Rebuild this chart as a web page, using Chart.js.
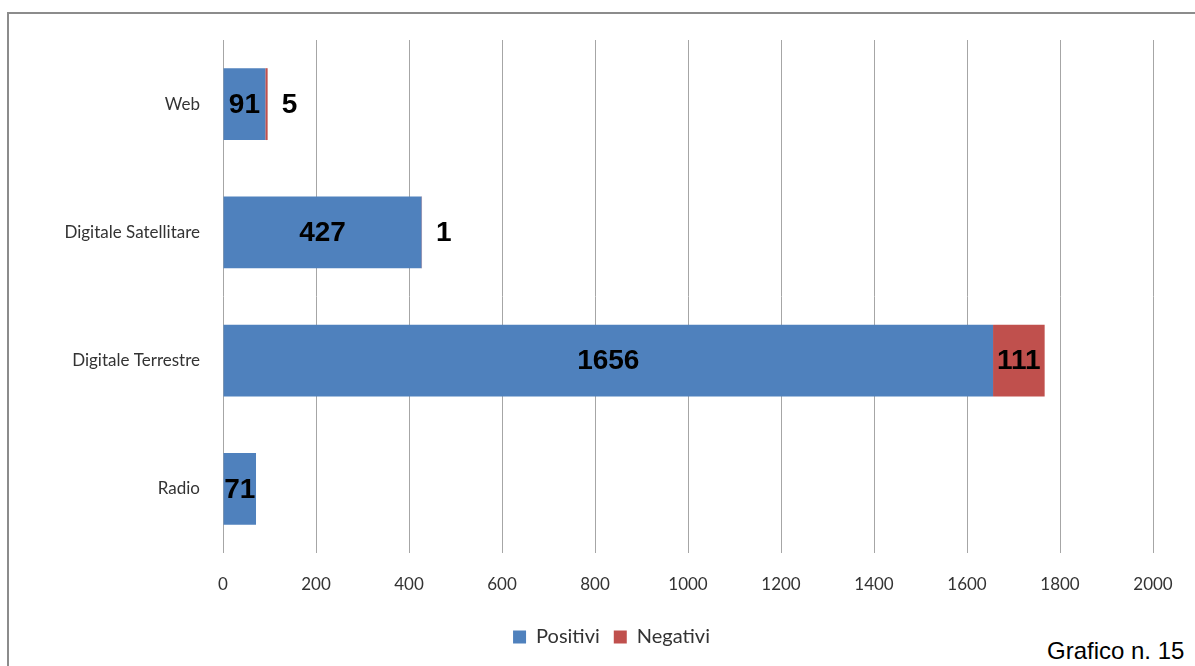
<!DOCTYPE html>
<html lang="it">
<head>
<meta charset="UTF-8">
<title>Grafico n. 15</title>
<script src="https://cdn.jsdelivr.net/npm/chart.js"></script>
<style>
    html, body {
        margin: 0;
        padding: 0;
        background: #fff;
        overflow: hidden;
    }
    .frame {
        position: absolute;
        left: 7px;
        top: 12px;
        width: 1400px;
        height: 800px;
        border: 2px solid #8c8c8c;
    }
    .wrap {
        position: absolute;
        left: 0;
        top: 0;
        width: 1195px;
        height: 666px;
    }
    .caption {
        position: absolute;
        left: 1043px;
        top: 637px;
        font-family: 'Liberation Sans', Arial, sans-serif;
        font-size: 24px;
        color: #000;
        background: #fff;
        padding: 0 4px;
    }
</style>
</head>
<body>
<div class="frame"></div>
<div class="wrap"><canvas id="chart" width="1195" height="666"></canvas></div>
<div class="caption">Grafico n. 15</div>
<script>
    var categories = ['Web', 'Digitale Satellitare', 'Digitale Terrestre', 'Radio'];
    var positivi = [91, 427, 1656, 71];
    var negativi = [5, 1, 111, 0];
    var xTicks = [0, 200, 400, 600, 800, 1000, 1200, 1400, 1600, 1800, 2000];

    // numbers on the bars; thin segments get their label just past the bar end
    var barLabels = {
        id: 'barLabels',
        afterDatasetsDraw: function (chart) {
            var ctx = chart.ctx;
            ctx.save();
            ctx.font = 'bold 28px "Liberation Sans", Arial, sans-serif';
            ctx.fillStyle = '#000';
            ctx.textBaseline = 'middle';
            chart.data.datasets.forEach(function (ds, i) {
                var meta = chart.getDatasetMeta(i);
                meta.data.forEach(function (bar, j) {
                    var v = ds.data[j];
                    if (!v) return;
                    var txt = String(v);
                    var w = Math.abs(bar.x - bar.base);
                    if (w < ctx.measureText(txt).width) {
                        ctx.textAlign = 'left';
                        ctx.fillText(txt, Math.max(bar.x, bar.base) + 14, bar.y + 1);
                    } else {
                        ctx.textAlign = 'center';
                        ctx.fillText(txt, (bar.x + bar.base) / 2, bar.y + 1);
                    }
                });
            });
            ctx.restore();
        }
    };

    // nudge the legend to the right, under the middle of the plot
    var legendShift = {
        id: 'legendShift',
        afterLayout: function (chart) {
            if (chart.legend) {
                chart.legend.left += 30;
                chart.legend.right += 30;
            }
        }
    };

    new Chart(document.getElementById('chart'), {
        type: 'bar',
        data: {
            labels: categories,
            datasets: [
                {
                    label: 'Positivi',
                    data: positivi,
                    backgroundColor: '#4f81bd',
                    categoryPercentage: 0.56,
                    barPercentage: 1
                },
                {
                    label: 'Negativi',
                    data: negativi,
                    backgroundColor: '#c0504d',
                    categoryPercentage: 0.56,
                    barPercentage: 1
                }
            ]
        },
        options: {
            indexAxis: 'y',
            responsive: false,
            animation: false,
            layout: {
                padding: { left: 10, right: 42, top: 40, bottom: 9 }
            },
            scales: {
                x: {
                    stacked: true,
                    min: 0,
                    max: 2000,
                    afterBuildTicks: function (scale) {
                        scale.ticks = xTicks.map(function (v) { return { value: v }; });
                    },
                    afterFit: function (scale) { scale.height = 60; },
                    grid: {
                        color: '#a6a6a6',
                        lineWidth: 1,
                        drawTicks: false
                    },
                    border: { display: false },
                    ticks: {
                        padding: 21,
                        color: '#333',
                        font: { family: 'Lato', size: 17 },
                        callback: function (v) { return String(v); }
                    }
                },
                y: {
                    stacked: true,
                    afterFit: function (scale) { scale.width = 213; },
                    grid: { display: false, drawTicks: false },
                    border: { display: false },
                    ticks: {
                        padding: 23,
                        color: '#333',
                        font: { family: 'Lato', size: 17 }
                    }
                }
            },
            plugins: {
                legend: {
                    position: 'bottom',
                    labels: {
                        boxWidth: 13,
                        boxHeight: 13,
                        padding: 14,
                        color: '#333',
                        font: { family: 'Lato', size: 20 }
                    }
                },
                tooltip: { enabled: false }
            }
        },
        plugins: [barLabels, legendShift]
    });
</script>
</body>
</html>
